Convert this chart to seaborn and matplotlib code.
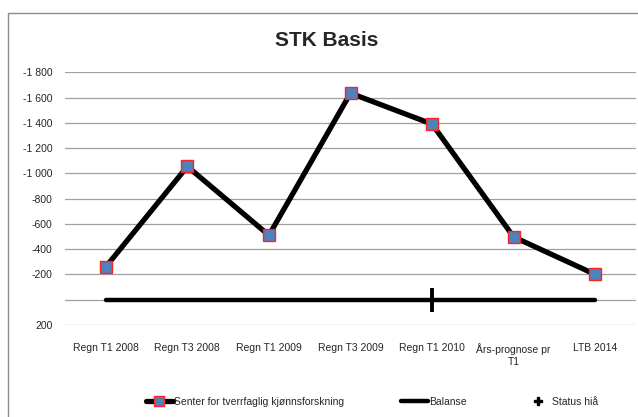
import numpy as np
import pandas as pd
import matplotlib
matplotlib.use("Agg")
import matplotlib.pyplot as plt
import matplotlib.ticker as mticker
from matplotlib.lines import Line2D
from matplotlib.patches import Rectangle
import seaborn as sns

# ============================================================
# DATA
# ============================================================

categories = ["Regn T1 2008", "Regn T3 2008", "Regn T1 2009", "Regn T3 2009",
              "Regn T1 2010", "Års-prognose pr\nT1", "LTB 2014"]
senter_values = [-260, -1055, -510, -1635, -1390, -497, -200]
balanse_values = [0, 0, 0, 0, 0, 0, 0]
status_values = [0]

series_names = ["Senter for tverrfaglig kjønnsforskning", "Balanse", "Status hiå"]
title_text = "STK Basis"
y_ticks = list(range(-1800, 201, 200))

# ============================================================
# STYLE
# ============================================================

sns.set_style("white")
plt.rcParams["font.family"] = ["Liberation Sans Narrow", "Liberation Sans", "DejaVu Sans"]

fig = plt.figure(figsize=(6.38, 4.17), dpi=100)
ax = fig.add_axes([65 / 638, 1 - 325 / 417, (636 - 65) / 638, (325 - 72.3) / 417])

df = pd.DataFrame({"category": categories, "senter": senter_values, "balanse": balanse_values})
status_df = pd.DataFrame({"category": [categories[4]], "value": status_values})

# gridlines
for t in y_ticks:
    ax.axhline(t, color="#a0a0a0", lw=0.9, zorder=0)

sns.lineplot(data=df, x="category", y="balanse", sort=False, color="black",
             lw=3.2, ax=ax, zorder=2, solid_capstyle="round")
sns.lineplot(data=df, x="category", y="senter", sort=False, color="black",
             lw=3.8, marker="s", markersize=8, markerfacecolor="#4f81bd",
             markeredgecolor="#ff2020", markeredgewidth=1.0, ax=ax, zorder=3)
sns.lineplot(data=status_df, x="category", y="value", color="black", lw=0,
             marker="|", markersize=17, markeredgewidth=2.8,
             markeredgecolor="black", ax=ax, zorder=4)

ax.set_xlim(-0.5, len(categories) - 0.5)
ax.set_ylim(200, -1800)
ax.set_yticks(y_ticks)
ax.yaxis.set_major_formatter(mticker.FuncFormatter(
    lambda v, p: "" if v == 0 else f"{int(v):,}".replace(",", " ")))
ax.tick_params(axis="y", length=0, pad=9, labelsize=7.5)
ax.tick_params(axis="x", length=0, pad=13, labelsize=7.5)
ax.set_xlabel("")
ax.set_ylabel("")
for s in ax.spines.values():
    s.set_visible(False)

fig.text(327 / 638, 1 - 40 / 417, title_text, ha="center", va="center",
         fontsize=15, fontweight="bold")

# chart border
fig.add_artist(Rectangle((8 / 638, -0.1), 1.2, 1 - 13 / 417 + 0.1,
                         transform=fig.transFigure, fill=False,
                         edgecolor="#8c8c8c", lw=1.0))

handles = [
    Line2D([], [], color="black", lw=3.8, marker="s", markersize=7,
           markerfacecolor="#4f81bd", markeredgecolor="#ff2020"),
    Line2D([], [], color="black", lw=3.2),
    Line2D([], [], color="black", lw=0, marker="P", markersize=6),
]
fig.legend(handles, series_names, loc="center", ncol=3, frameon=False,
           bbox_to_anchor=(372 / 638, 1 - 402 / 417), fontsize=7.5,
           handlelength=2.6, handletextpad=0.1, columnspacing=5.5)

fig.savefig("out.png", dpi=100)
